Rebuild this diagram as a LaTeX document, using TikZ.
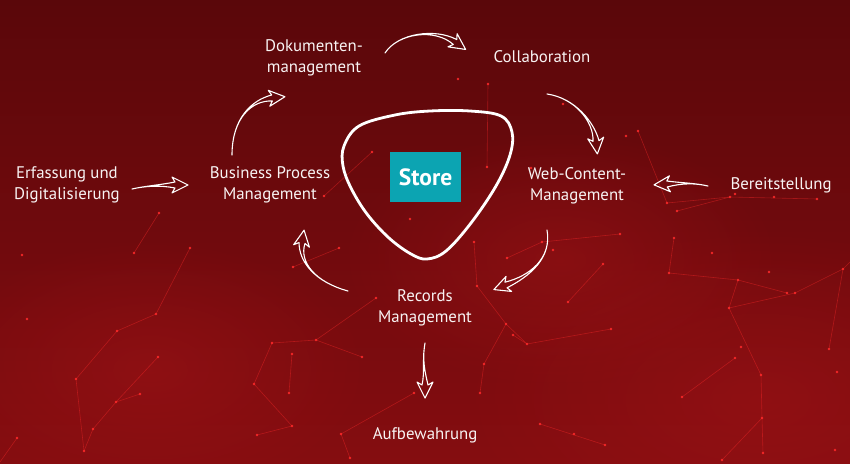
\documentclass[tikz,border=0pt]{standalone}
\usepackage{fontspec}
\setmainfont{PT Sans}
\usetikzlibrary{calc,fadings}
\definecolor{bgtop}{HTML}{5A070A}
\definecolor{bgbot}{HTML}{850D10}
\definecolor{glowc}{HTML}{A41418}
\definecolor{netc}{HTML}{FF2A2A}
\definecolor{storeteal}{HTML}{0CA4B2}
\definecolor{txt}{HTML}{F8F3F3}
\tikzfading[name=glowfade, inner color=transparent!55, outer color=transparent!100]
\newcommand\handarrow[4]{%
  \coordinate (haS) at #1;
  \coordinate (haCa) at #2;
  \coordinate (haCb) at #3;
  \coordinate (haE) at #4;
  \coordinate (haT) at ($(haE)!-13pt!(haCb)$);
  \coordinate (haB) at ($(haE)!3pt!(haCb)$);
  \coordinate (haNa) at ($(haE)!3pt!90:(haT)$);
  \coordinate (haNb) at ($(haE)!3pt!-90:(haT)$);
  \coordinate (haWa) at ($(haB)!8pt!90:(haT)$);
  \coordinate (haWb) at ($(haB)!8pt!-90:(haT)$);
  \draw[handline] (haS) .. controls (haCa) and (haCb) .. (haNa) -- (haWa) -- (haT) -- (haWb) -- (haNb) .. controls (haCb) and (haCa) .. (haS);
}
\tikzset{
  lbl/.style={text=txt, align=center, font=\fontsize{16.8}{21}\selectfont, inner sep=0pt},
  handline/.style={draw=white, line width=1.1pt, line join=round, line cap=round},
  netline/.style={draw=netc, line width=0.6pt, opacity=0.4},
  netdot/.style={fill=netc, opacity=0.9}
}
\begin{document}
\begin{tikzpicture}[x=1pt,y=-1pt]
\useasboundingbox (0,0) rectangle (850,463);
% background
\shade[top color=bgtop, bottom color=bgbot] (0,0) rectangle (850,463);
\begin{scope}
\clip (0,0) rectangle (850,463);
\fill[glowc, path fading=glowfade] (760,400) ellipse (300pt and 170pt);
\fill[glowc, path fading=glowfade] (560,260) ellipse (220pt and 130pt);
\fill[glowc, path fading=glowfade] (150,370) ellipse (220pt and 130pt);
% network lines
\foreach \a/\b in {
  {(159,213)}/{(134,253)}, {(372,152)}/{(324,196)},
  {(190,248)}/{(156,314)}, {(156,314)}/{(117,331)}, {(117,331)}/{(76,379)},
  {(76,379)}/{(84,451)}, {(158,357)}/{(116,402)}, {(116,402)}/{(140,394)},
  {(116,402)}/{(93,429)}, {(93,429)}/{(84,451)}, {(17,438)}/{(0,462)},
  {(272,343)}/{(316,340)}, {(316,340)}/{(376,298)}, {(316,340)}/{(362,357)},
  {(272,343)}/{(254,384)}, {(254,384)}/{(292,426)}, {(292,426)}/{(257,435)},
  {(292,354)}/{(289,393)}, {(341,434)}/{(350,458)}, {(341,434)}/{(414,393)},
  {(293,267)}/{(339,248)},
  {(477,286)}/{(506,324)}, {(506,324)}/{(527,344)}, {(513,335)}/{(527,344)},
  {(506,324)}/{(484,364)}, {(484,364)}/{(480,393)}, {(527,344)}/{(611,329)},
  {(507,258)}/{(542,242)}, {(542,242)}/{(620,234)}, {(474,242)}/{(477,286)},
  {(669,273)}/{(738,280)}, {(738,280)}/{(787,293)}, {(738,280)}/{(729,308)},
  {(729,308)}/{(795,293)}, {(795,293)}/{(843,269)}, {(843,269)}/{(829,349)},
  {(729,308)}/{(761,375)}, {(761,375)}/{(762,418)}, {(762,418)}/{(763,453)},
  {(762,418)}/{(722,460)}, {(682,397)}/{(735,358)}, {(540,424)}/{(605,445)},
  {(669,273)}/{(674,238)}, {(603,264)}/{(568,302)},
  {(488,84)}/{(487,167)}, {(638,131)}/{(667,203)}, {(667,203)}/{(730,197)},
  {(730,197)}/{(817,199)}, {(677,211)}/{(730,197)}, {(843,269)}/{(850,262)}}
  \draw[netline] \a -- \b;
\foreach \p in {(159,213),(134,253),(372,152),(324,196),(190,248),(156,314),
  (117,331),(158,357),(76,379),(116,402),(140,394),(93,429),(84,451),(17,438),
  (22,255),(27,319),(293,267),(376,298),(272,343),(316,340),(362,357),(292,354),
  (289,393),(254,384),(292,426),(257,435),(341,434),(350,458),(414,393),(339,248),
  (410,219),(474,242),(542,242),(620,234),(553,250),(507,258),(477,286),(506,324),
  (513,335),(527,344),(484,364),(480,393),(611,329),(603,264),(568,302),(669,273),
  (712,253),(674,238),(738,280),(787,293),(795,293),(843,269),(769,272),(729,308),
  (741,347),(735,358),(761,375),(829,349),(682,397),(762,418),(763,453),(540,424),
  (574,434),(605,445),(835,450),(837,372),(722,460),
  (488,84),(458,79),(487,167),(531,168),(563,104),(638,131),(626,136),(667,203),
  (677,211),(730,197),(735,194),(774,197),(817,199)}
  \fill[netdot] \p circle (1.4pt);
\end{scope}
% loop
\draw[white, line width=2.8pt] plot[smooth cycle, tension=0.6] coordinates {
  (344,146) (359,126) (395,115) (430,111) (470,111) (501,116) (512,132) (510,155)
  (496,186) (471,223) (446,251) (427,259) (411,254) (389,238) (367,214) (351,188) (343,166)};
% store
\node[fill=storeteal, text=white, font=\bfseries\fontsize{23.5}{25}\selectfont,
  minimum width=71pt, minimum height=50pt, inner sep=0pt] (store) at (425.5,177) {Store};
% labels
\node[lbl] (dok) at (314,58) {Dokumenten-\\management};
\node[lbl] (collab) at (542,57) {Collaboration};
\node[lbl] (erf) at (67,185) {Erfassung und\\Digitalisierung};
\node[lbl] (bpm) at (270,185) {Business Process\\Management};
\node[lbl] (wcm) at (577,186) {Web-Content-\\Management};
\node[lbl] (bereit) at (781,185) {Bereitstellung};
\node[lbl] (rm) at (425,308) {Records\\Management};
\node[lbl] (auf) at (425,435) {Aufbewahrung};
% arrows
\handarrow{(232,155)}{(232,118)}{(252,100)}{(272,98)}
\handarrow{(385,53)}{(398,33)}{(435,28)}{(455,42)}
\handarrow{(547,94)}{(575,98)}{(594,122)}{(596,141)}
\handarrow{(708,186)}{(695,183)}{(682,183)}{(667,184)}
\handarrow{(132,189)}{(145,186)}{(160,185)}{(175,185)}
\handarrow{(547,230)}{(552,258)}{(530,276)}{(506,285)}
\handarrow{(348,291)}{(315,282)}{(299,262)}{(302,243)}
\handarrow{(425,343)}{(422,360)}{(425,372)}{(425,385)}
\end{tikzpicture}
\end{document}
